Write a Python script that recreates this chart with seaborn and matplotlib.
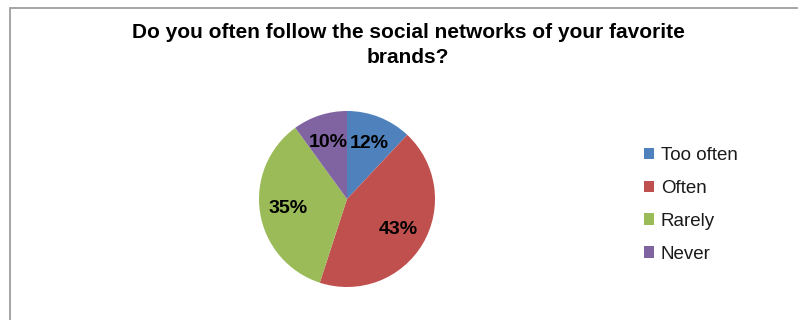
import matplotlib
matplotlib.use("Agg")
import matplotlib.pyplot as plt
import seaborn as sns
from matplotlib.patches import Rectangle

categories = ["Too often", "Often", "Rarely", "Never"]
shares = [12, 43, 35, 10]
colors = ["#4F81BD", "#C0504D", "#9BBB59", "#8064A2"]
title = "Do you often follow the social networks of your favorite\nbrands?"

sns.set_theme(style="white")
plt.rcParams["font.family"] = ["Liberation Sans", "DejaVu Sans"]

W, H = 798, 320
fig = plt.figure(figsize=(W / 100, H / 100), dpi=100)

# chart-area frame (top and left edges visible)
fig.patches.append(Rectangle((10 / W, -0.1), 1.2, (H - 8) / H + 0.1,
                             transform=fig.transFigure, fill=False,
                             edgecolor="#9E9E9E", linewidth=1.3))

cx, cy, r = 347, 199, 88
ax = fig.add_axes([(cx - r) / W, (H - cy - r) / H, 2 * r / W, 2 * r / H])
wedges, texts, autotexts = ax.pie(
    shares, colors=sns.color_palette(colors), startangle=90, counterclock=False,
    autopct=lambda p: f"{p:.0f}%", pctdistance=0.68, radius=1,
    wedgeprops=dict(linewidth=0),
    textprops=dict(fontsize=14, fontweight="bold", color="black"),
)
ax.set_xlim(-1, 1)
ax.set_ylim(-1, 1)
ax.set_aspect("equal")
ax.axis("off")

fig.text(408 / W, 1 - 45 / H, title, ha="center", va="center", color="black",
         fontsize=15, fontweight="bold", linespacing=1.4)

leg = fig.legend(wedges, categories, loc="upper left",
                 bbox_to_anchor=(627 / W, 1 - 130 / H), frameon=False,
                 fontsize=13.5, handlelength=0.55, handleheight=0.55,
                 handletextpad=0.35, labelspacing=0.85, labelcolor="#1a1a1a")

fig.savefig("out.png", dpi=100)
